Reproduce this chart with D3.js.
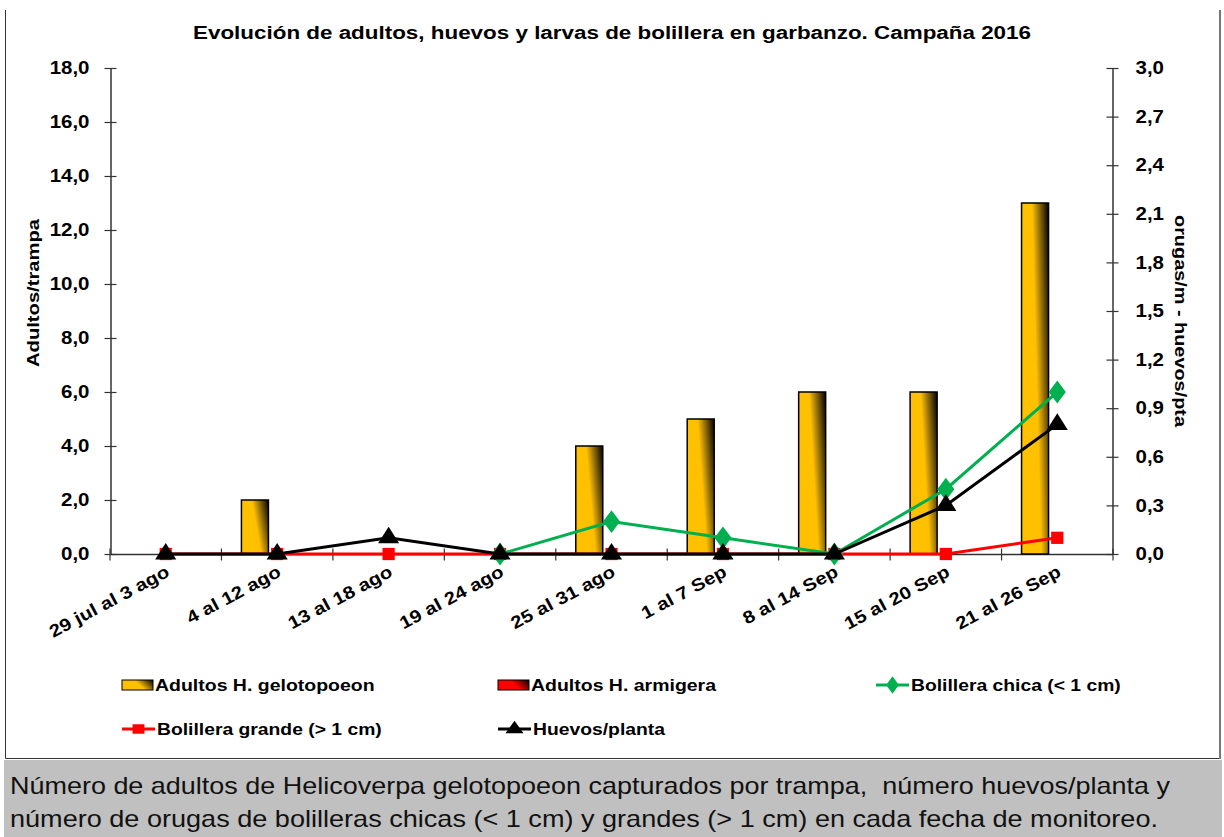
<!DOCTYPE html>
<html><head><meta charset="utf-8">
<script src="https://cdn.jsdelivr.net/npm/d3@7"></script>
<style>
body{margin:0;background:#fff;}
svg{display:block;font-family:Arial,"Liberation Sans",sans-serif;}
</style></head>
<body>
<svg id="chart" width="1224" height="837"></svg>
<script>
const categories = ["29 jul al 3 ago","4 al 12 ago","13 al 18 ago","19 al 24 ago","25 al 31 ago","1 al 7 Sep","8 al 14 Sep","15 al 20 Sep","21 al 26 Sep"];
const gelotopoeon = [0,2,0,0,4,5,6,6,13];
const armigera = [0,0,0,0,0,0,0,0,0];
const chica = [null,null,null,0,0.2,0.1,0,0.4,1.0];
const grande = [0,0,0,0,0,0,0,0,0.1];
const huevos = [0,0,0.1,0,0,0,0,0.3,0.8];
const leftTicks = [0,2,4,6,8,10,12,14,16,18];
const rightTicks = [0,0.3,0.6,0.9,1.2,1.5,1.8,2.1,2.4,2.7,3.0];
const title = "Evolución de adultos, huevos y larvas de bolillera en garbanzo. Campaña 2016";
const caption = ["Número de adultos de Helicoverpa gelotopoeon capturados por trampa,  número huevos/planta y",
                 "número de orugas de bolilleras chicas (< 1 cm) y grandes (> 1 cm) en cada fecha de monitoreo."];

const svg = d3.select("#chart");
const fmt = v => d3.format(".1f")(v).replace(".", ",");
function stretch(sel, k){
  sel.each(function(){
    const w = this.getComputedTextLength();
    d3.select(this).attr("textLength", w*k).attr("lengthAdjust","spacingAndGlyphs");
  });
}
function fitTo(sel, target){
  sel.attr("textLength", target).attr("lengthAdjust","spacingAndGlyphs");
}

// gradients
const defs = svg.append("defs");
function grad(id, c){
  const g = defs.append("linearGradient").attr("id", id)
    .attr("x1","0").attr("y1","0.35").attr("x2","1").attr("y2","0");
  g.append("stop").attr("offset","0").attr("stop-color",c);
  g.append("stop").attr("offset","0.45").attr("stop-color",c);
  g.append("stop").attr("offset","1").attr("stop-color","#000");
}
grad("gGold","#FFC000");
grad("gRed","#FF0000");

// frame
svg.append("path").attr("d","M5.5,10 V758.5 H1219.5 V10").attr("fill","none").attr("stroke","#333").attr("stroke-width",1);
svg.append("line").attr("x1",1220).attr("x2",1220).attr("y1",10).attr("y2",759).attr("stroke","#777").attr("stroke-width",2);
// caption box
svg.append("rect").attr("x",4).attr("y",760).attr("width",1218).attr("height",77).attr("fill","#C0C0C0");
const capT = svg.append("g").selectAll("text").data(caption).join("text")
  .attr("x",10).attr("y",(d,i)=>794+i*33).style("white-space","pre")
  .attr("font-size",24).attr("fill","#111").text(d=>d);
capT.each(function(d,i){ fitTo(d3.select(this), i===0?1160:1148); });

const x = d3.scaleBand().domain(categories).range([110,1113]);
const yL = d3.scaleLinear().domain([0,18]).range([554,68]);
const yR = d3.scaleLinear().domain([0,3]).range([554,68]);

// title
const tt = svg.append("text").attr("x",612).attr("y",39).attr("text-anchor","middle")
  .attr("font-weight","bold").attr("font-size",18).text(title);
fitTo(tt, 838);

// axes
const axisCol = "#333";
const gL = svg.append("g").attr("transform","translate(110.5,0)")
  .call(d3.axisLeft(yL).tickValues(leftTicks).tickFormat(fmt).tickSizeInner(6).tickSizeOuter(0).tickPadding(15));
const gR = svg.append("g").attr("transform","translate(1112.5,0)")
  .call(d3.axisRight(yR).tickValues(rightTicks).tickFormat(fmt).tickSizeInner(6).tickSizeOuter(0).tickPadding(17));
[gL,gR].forEach(g=>{
  g.selectAll(".tick line").attr("x1",-6).attr("x2",6);
  g.select(".domain").attr("stroke",axisCol).attr("stroke-width",1.5);
  g.selectAll(".tick line").attr("stroke",axisCol).attr("stroke-width",1.2);
  g.selectAll("text").attr("font-family","Arial, 'Liberation Sans', sans-serif").attr("font-weight","bold").attr("font-size",17.5).attr("fill","#000");
  stretch(g.selectAll("text"), 1.17);
});

// x axis
const gX = svg.append("g").attr("transform","translate(0,554.5)");
gX.append("line").attr("x1",110).attr("x2",1113).attr("stroke",axisCol).attr("stroke-width",1.5);
const bounds = categories.map(c=>x(c)).concat([x.range()[1]]);
gX.selectAll("line.tk").data(bounds).join("line").attr("class","tk")
  .attr("x1",d=>d).attr("x2",d=>d).attr("y1",-6).attr("y2",6).attr("stroke",axisCol).attr("stroke-width",1.2);
const xl = gX.selectAll("text").data(categories).join("text")
  .attr("transform",d=>`translate(${x(d)+x.bandwidth()/2+5},${21}) rotate(-28)`)
  .attr("text-anchor","end").attr("font-weight","bold").attr("font-size",17.5).text(d=>d);
stretch(xl, 1.16);

// bars
const barOff = 20, barW = 27;
svg.append("g").selectAll("rect").data(gelotopoeon).join("rect")
  .attr("x",(d,i)=>x(categories[i])+barOff).attr("width",barW)
  .attr("y",d=>yL(d)).attr("height",d=>yL(0)-yL(d))
  .attr("fill","url(#gGold)").attr("stroke","#000").attr("stroke-width",1.5)
  .attr("display",d=>d>0?null:"none");
svg.append("g").selectAll("rect").data(armigera).join("rect")
  .attr("x",(d,i)=>x(categories[i])+barOff+barW).attr("width",barW)
  .attr("y",d=>yL(d)).attr("height",d=>yL(0)-yL(d))
  .attr("fill","url(#gRed)").attr("stroke","#000").attr("stroke-width",1.5)
  .attr("display",d=>d>0?null:"none");

// lines
const cx = i => x(categories[i]) + x.bandwidth()/2;
function drawLine(vals, color){
  const line = d3.line().defined(d=>d!=null).x((d,i)=>cx(i)).y(d=>yR(d));
  svg.append("path").datum(vals).attr("d",line).attr("fill","none").attr("stroke",color).attr("stroke-width",3);
}
const sq = d3.symbol().type(d3.symbolSquare).size(150);
const dia = d3.symbol().type(d3.symbolDiamond).size(150);
const tri = d3.symbol().type(d3.symbolTriangle).size(160);
function drawMarkers(vals, gen, color, sx){
  svg.append("g").selectAll("path").data(vals.map((v,i)=>({v,i})).filter(d=>d.v!=null)).join("path")
    .attr("transform",d=>`translate(${cx(d.i)},${yR(d.v)}) scale(${sx||1},1)`).attr("d",gen).attr("fill",color);
}
drawLine(grande,"#FF0000"); drawMarkers(grande, sq, "#FF0000");
drawLine(chica,"#00B050"); drawMarkers(chica, dia, "#00B050", 1.3);
drawLine(huevos,"#000"); drawMarkers(huevos, tri, "#000", 1.1);

// legend
const leg = svg.append("g").attr("font-weight","bold").attr("font-size",16.5);
function legRect(x0,y0,fill,label){
  leg.append("rect").attr("x",x0).attr("y",y0-5).attr("width",31).attr("height",10).attr("fill",fill).attr("stroke","#000").attr("stroke-width",1);
  stretch(leg.append("text").attr("x",x0+33).attr("y",y0+6).text(label), 1.18);
}
function legLine(x0,y0,color,gen,label){
  leg.append("line").attr("x1",x0).attr("x2",x0+33).attr("y1",y0).attr("y2",y0).attr("stroke",color).attr("stroke-width",3);
  leg.append("path").attr("transform",`translate(${x0+16.5},${y0}) scale(1.25,1)`).attr("d",gen.size(90)()).attr("fill",color);
  stretch(leg.append("text").attr("x",x0+35).attr("y",y0+6).text(label), 1.17);
}
legRect(122,685,"url(#gGold)","Adultos H. gelotopoeon");
legRect(498,685,"url(#gRed)","Adultos H. armigera");
legLine(876,685,"#00B050",d3.symbol().type(d3.symbolDiamond),"Bolillera chica (< 1 cm)");
legLine(122,729,"#FF0000",d3.symbol().type(d3.symbolSquare),"Bolillera grande (> 1 cm)");
legLine(498,729,"#000",d3.symbol().type(d3.symbolTriangle),"Huevos/planta");

// axis titles
const at1 = svg.append("text").attr("transform","translate(39,293) rotate(-90)").attr("text-anchor","middle")
  .attr("font-weight","bold").attr("font-size",17).text("Adultos/trampa");
fitTo(at1, 148);
const at2 = svg.append("text").attr("transform","translate(1175,321) rotate(90)").attr("text-anchor","middle")
  .attr("font-weight","bold").attr("font-size",17).text("orugas/m - huevos/pta");
fitTo(at2, 212);
</script>
</body></html>
